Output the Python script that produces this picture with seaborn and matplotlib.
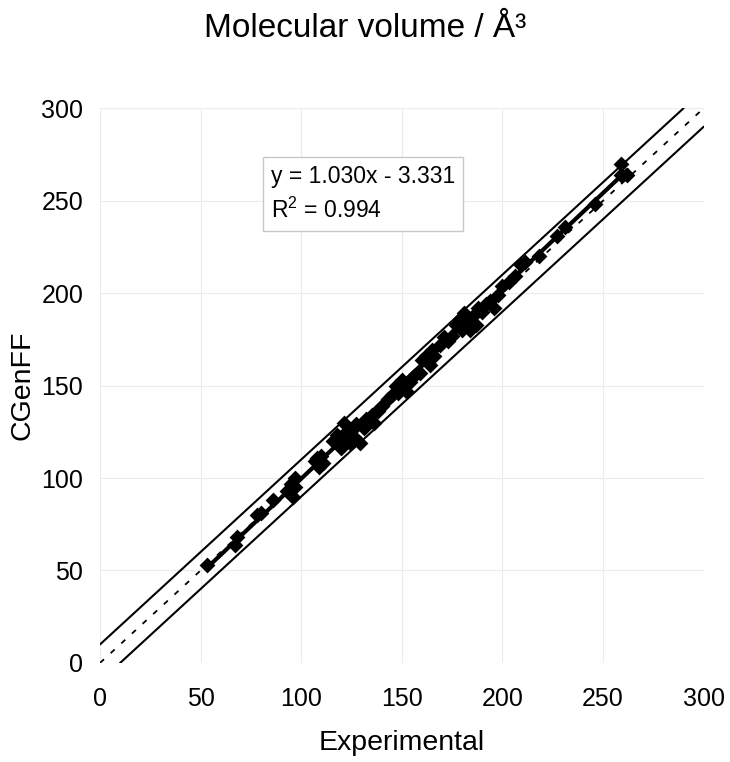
import numpy as np
import pandas as pd
import matplotlib.pyplot as plt
import seaborn as sns

# Molecular volumes (A^3)
experimental = [53, 67, 68, 78, 80, 86, 93, 95, 96, 97, 97, 107, 108, 109, 110, 111,
                116, 118, 119, 120, 121, 122, 123, 124, 125, 126, 127, 129, 131, 132,
                133, 135, 136, 138, 140, 143, 145, 147, 148, 150, 151, 152, 154, 156,
                159, 160, 162, 164, 165, 166, 169, 171, 173, 175, 177, 179, 180, 181,
                183, 184, 186, 187, 188, 190, 192, 194, 196, 198, 200, 203, 206, 209,
                211, 218, 227, 231, 246, 259, 259, 262]
cgenff = [53, 64, 68, 80, 81, 88, 93, 97, 90, 95, 100, 109, 111, 106, 112, 108,
          120, 123, 118, 116, 130, 125, 121, 119, 126, 122, 129, 119, 127, 132,
          131, 134, 130, 136, 139, 143, 145, 150, 146, 153, 149, 147, 152, 155,
          157, 164, 166, 161, 169, 166, 172, 176, 174, 177, 183, 186, 180, 189,
          185, 180, 188, 183, 192, 190, 194, 196, 192, 199, 204, 206, 209, 215,
          217, 220, 231, 236, 248, 270, 264, 264]

slope, intercept = 1.030, -3.331
r2 = 0.994

df = pd.DataFrame({'Experimental': experimental, 'CGenFF': cgenff})

sns.set_style('whitegrid', {'grid.color': '#ececec', 'axes.edgecolor': 'white',
                            'text.color': 'black', 'axes.labelcolor': 'black',
                            'xtick.color': 'black', 'ytick.color': 'black'})
plt.rcParams['font.family'] = ['Liberation Sans', 'DejaVu Sans']
plt.rcParams['mathtext.fontset'] = 'custom'
plt.rcParams['mathtext.rm'] = 'Liberation Sans'
plt.rcParams['mathtext.it'] = 'Liberation Sans'

fig = plt.figure(figsize=(7.3, 7.62), dpi=100)
ax = fig.add_axes([0.137, 0.130, 0.827, 0.728])

# +/- 10 band and identity line
ax.plot([0, 290], [10, 300], color='black', lw=1.5)
ax.plot([10, 300], [0, 290], color='black', lw=1.5)
ax.plot([0, 300], [0, 300], color='black', lw=1.3, ls=(0, (3, 5)))

# trend line
xfit = np.array([min(experimental), max(experimental)])
ax.plot(xfit, slope * xfit + intercept, color='black', lw=3)

sns.scatterplot(data=df, x='Experimental', y='CGenFF', marker='D', s=65,
                color='black', edgecolor='black', linewidth=0, ax=ax, zorder=3)

ax.set_xlim(0, 300)
ax.set_ylim(0, 300)
ax.set_xticks(range(0, 301, 50))
ax.set_yticks(range(0, 301, 50))
ax.tick_params(labelsize=18, colors='black', length=0)
ax.tick_params(axis='x', pad=17)
ax.tick_params(axis='y', pad=12)
for s in ax.spines.values():
    s.set_visible(False)

ax.set_xlabel('Experimental', fontsize=20.5, labelpad=14)
ax.set_ylabel('CGenFF', fontsize=20.5, labelpad=4)
fig.suptitle('Molecular volume / Å³', fontsize=24, y=0.983)

ax.text(0.283, 0.897, 'y = 1.030x - 3.331\nR$^2$ = 0.994', transform=ax.transAxes,
        fontsize=16.5, va='top', ha='left', linespacing=1.45,
        bbox=dict(boxstyle='square,pad=0.35', fc='white', ec='#c8c8c8', lw=1))

fig.savefig('out.png', dpi=100)
